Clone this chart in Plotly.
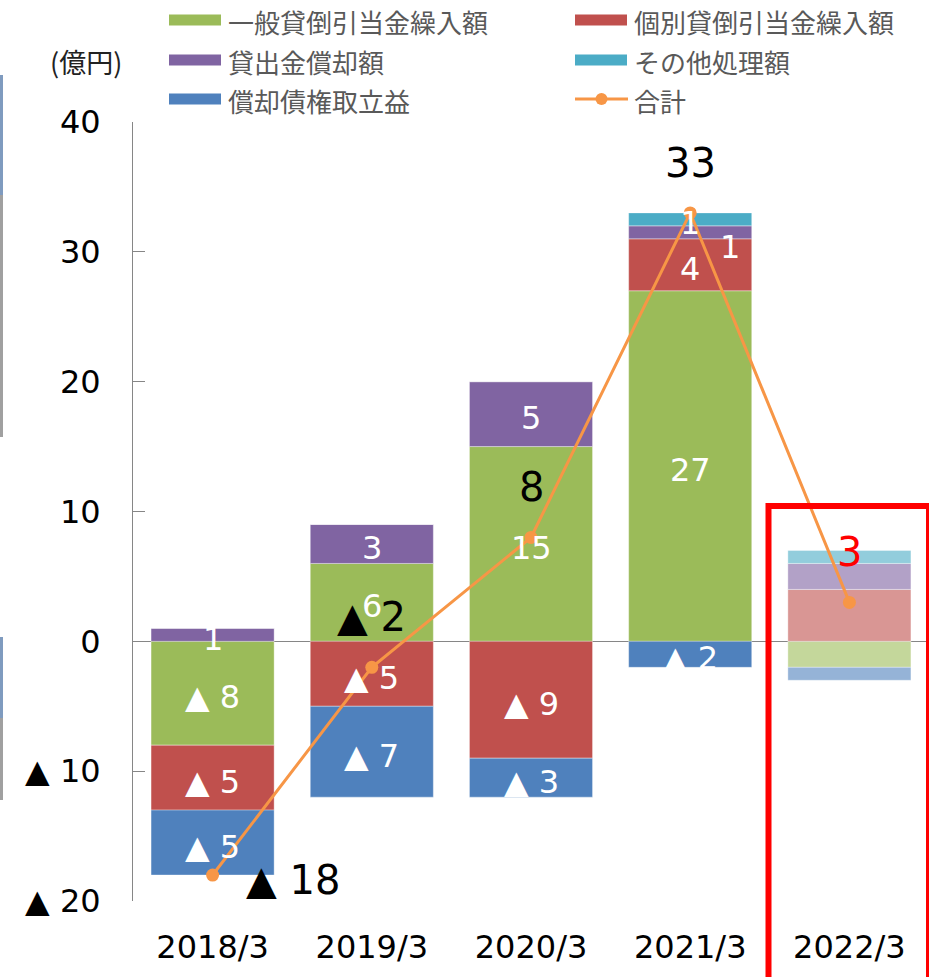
import plotly.graph_objects as go

# ---- data (億円) ----
categories = ["2018/3", "2019/3", "2020/3", "2021/3", "2022/3"]
general_provision = [-8, 6, 15, 27, -2]     # 一般貸倒引当金繰入額
specific_provision = [-5, -5, -9, 4, 4]     # 個別貸倒引当金繰入額
loan_writeoff = [1, 3, 5, 1, 2]             # 貸出金償却額
other_disposal = [0, 0, 0, 1, 1]            # その他処理額
recoveries = [-5, -7, -3, -2, -1]           # 償却債権取立益
total = [-18, -2, 8, 33, 3]                 # 合計
y_tickvals = [-20, -10, 0, 10, 20, 30, 40]

# ---- styling ----
W, H = 929, 977
L, R, T, B = 133, 0, 122, 76
PW, PH = W - L - R, H - T - B
NUM_FONT = "DejaVu Sans"
JP_FONT = "Noto Sans CJK JP"
AXIS_GRAY = "#868686"


def px_x(p):
    return (p - L) / PW


def px_y(p):
    return (H - B - p) / PH


def fmt(v):
    return f"▲ {abs(v)}" if v < 0 else f"{v}"


series = [
    ("一般貸倒引当金繰入額", general_provision, "#9BBB59", "#C4D79B"),
    ("個別貸倒引当金繰入額", specific_provision, "#C0504D", "#D99694"),
    ("貸出金償却額", loan_writeoff, "#8064A2", "#B2A1C7"),
    ("その他処理額", other_disposal, "#4BACC6", "#92CDDC"),
    ("償却債権取立益", recoveries, "#4F81BD", "#95B3D7"),
]
FORECAST = len(categories) - 1  # last year shown as a faded forecast

fig = go.Figure()
for name, vals, col, faded in series:
    colors = [faded if i == FORECAST else col for i in range(len(categories))]
    fig.add_trace(go.Bar(
        x=categories, y=vals, name=name,
        marker=dict(color=colors, line=dict(color="rgba(255,255,255,0.35)", width=1)),
        showlegend=False, hoverinfo="skip",
    ))

fig.add_trace(go.Scatter(
    x=categories, y=total, name="合計", mode="lines+markers",
    line=dict(color="#F79646", width=3),
    marker=dict(color="#F79646", size=13),
    showlegend=False,
))

annotations = []

# segment labels, placed at the middle of each stacked segment
label_nudge = {("貸出金償却額", 3): (40, -11)}
pos_base = [0.0] * len(categories)
neg_base = [0.0] * len(categories)
for name, vals, col, faded in series:
    for i, v in enumerate(vals):
        if v >= 0:
            lo, hi = pos_base[i], pos_base[i] + v
            pos_base[i] = hi
        else:
            lo, hi = neg_base[i] + v, neg_base[i]
            neg_base[i] = lo
        if v == 0 or i == FORECAST:
            continue
        dx, dy = label_nudge.get((name, i), (0, 0))
        annotations.append(dict(
            x=categories[i], y=(lo + hi) / 2, xref="x", yref="y",
            text=fmt(v), showarrow=False,
            font=dict(family=NUM_FONT, size=32, color="white"),
            xshift=dx, yshift=dy - 4,
        ))

# total labels
total_shift = {0: (80, -5)}
for i, v in enumerate(total):
    dx, dy = total_shift.get(i, (0, 50))
    annotations.append(dict(
        x=categories[i], y=v, xref="x", yref="y", text=fmt(v), showarrow=False,
        font=dict(family=NUM_FONT, size=40, color="red" if i == FORECAST else "black"),
        xshift=dx, yshift=dy,
    ))

# unit label
annotations.append(dict(
    x=px_x(86), y=px_y(61), xref="paper", yref="paper", text="(億円)",
    showarrow=False, font=dict(family=JP_FONT, size=27, color="#222222"),
    xanchor="center", yanchor="middle",
))

# legend drawn as swatches + text
shapes = []
legend_items = [
    (0, 0, "一般貸倒引当金繰入額", "#9BBB59", "bar"),
    (1, 0, "個別貸倒引当金繰入額", "#C0504D", "bar"),
    (0, 1, "貸出金償却額", "#8064A2", "bar"),
    (1, 1, "その他処理額", "#4BACC6", "bar"),
    (0, 2, "償却債権取立益", "#4F81BD", "bar"),
    (1, 2, "合計", "#F79646", "line"),
]
col_x = [169, 575]
row_y = [20, 60, 99]
for c, r, text, color, kind in legend_items:
    x0 = col_x[c]
    yc = row_y[r]
    if kind == "bar":
        shapes.append(dict(type="rect", xref="paper", yref="paper",
                           x0=px_x(x0), x1=px_x(x0 + 52), y0=px_y(yc - 5.5), y1=px_y(yc + 5.5),
                           fillcolor=color, line=dict(width=0), layer="above"))
    else:
        shapes.append(dict(type="line", xref="paper", yref="paper",
                           x0=px_x(x0), x1=px_x(x0 + 53), y0=px_y(yc), y1=px_y(yc),
                           line=dict(color=color, width=3), layer="above"))
        shapes.append(dict(type="circle", xref="paper", yref="paper",
                           x0=px_x(x0 + 20.5), x1=px_x(x0 + 32.5), y0=px_y(yc - 6), y1=px_y(yc + 6),
                           fillcolor=color, line=dict(width=0), layer="above"))
    annotations.append(dict(
        x=px_x(x0 + 57), y=px_y(yc + 1), xref="paper", yref="paper", text=text,
        showarrow=False, xanchor="left", yanchor="middle",
        font=dict(family=JP_FONT, size=26, color="#595959"),
    ))

# highlight frame around the forecast year
shapes.append(dict(type="rect", xref="paper", yref="paper",
                   x0=px_x(768.5), x1=px_x(929), y0=px_y(990), y1=px_y(506),
                   line=dict(color="#FF0000", width=6), fillcolor="rgba(0,0,0,0)", layer="above"))

# thin slide-edge rules on the far left
for y0, y1, color in [(75, 195, "#7F9BBF"), (195, 437, "#A0A0A0"),
                      (637, 718, "#7F9BBF"), (718, 800, "#A0A0A0")]:
    shapes.append(dict(type="line", xref="paper", yref="paper",
                       x0=px_x(1.5), x1=px_x(1.5), y0=px_y(y0), y1=px_y(y1),
                       line=dict(color=color, width=3)))

fig.update_layout(
    width=W, height=H,
    margin=dict(l=L, r=R, t=T, b=B, pad=0),
    barmode="relative", bargap=0.227,
    plot_bgcolor="white", paper_bgcolor="white",
    showlegend=False,
    annotations=annotations, shapes=shapes,
    font=dict(family=NUM_FONT, color="black"),
)
fig.update_xaxes(
    showline=False, ticks="", showgrid=False,
    tickfont=dict(family=NUM_FONT, size=32, color="black"),
    ticklabelstandoff=24,
)
fig.update_yaxes(
    range=[-20, 40], tickvals=y_tickvals, ticktext=[fmt(v) for v in y_tickvals],
    showline=True, linecolor=AXIS_GRAY, linewidth=1,
    ticks="inside", ticklen=12, tickcolor=AXIS_GRAY, tickwidth=1,
    showgrid=False, zeroline=True, zerolinecolor=AXIS_GRAY, zerolinewidth=1,
    tickfont=dict(family=NUM_FONT, size=32, color="black"),
    ticklabelstandoff=25,
)

fig.write_html("out.html")
